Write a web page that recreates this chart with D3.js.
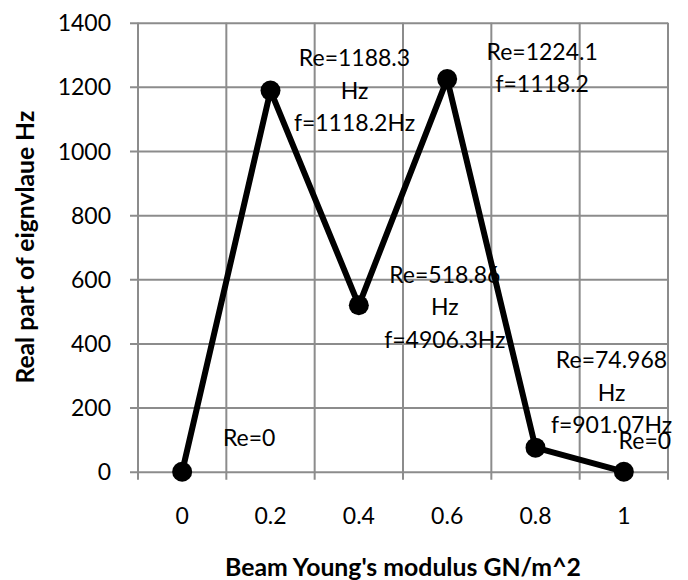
<!DOCTYPE html>
<html>
<head>
<meta charset="utf-8">
<script src="https://cdn.jsdelivr.net/npm/d3@7"></script>
<style>
  html, body { margin: 0; padding: 0; background: #fff; }
  svg { display: block; }
  text { font-family: Lato, "Open Sans", sans-serif; fill: #000; }
</style>
</head>
<body>
<svg id="chart" width="688" height="580"></svg>
<script>
// Young's modulus steps (GN/m^2) along the category axis
const categories = ["0", "0.2", "0.4", "0.6", "0.8", "1"];
// Real part of the eigenvalue (Hz) at each step
const realPart = [0, 1188.3, 518.86, 1224.1, 74.968, 0];
// Data label text, one entry per point, split into lines
const labelLines = [
  ["Re=0"],
  ["Re=1188.3", "Hz", "f=1118.2Hz"],
  ["Re=518.86", "Hz", "f=4906.3Hz"],
  ["Re=1224.1", "f=1118.2"],
  ["Re=74.968", "Hz", "f=901.07Hz"],
  ["Re=0"]
];
const yTicks = [0, 200, 400, 600, 800, 1000, 1200, 1400];

// Label block centre offsets from each marker (layout only)
const labelOffsets = [[67, -34], [84, 0], [86, 2], [95, -11], [76, -55], [21, -31]];

const svg = d3.select("#chart");
const plot = { left: 138, right: 668, top: 22.7, bottom: 471.7 };
const gridColor = "#8c8c8c";
const fontSize = 23;
const lineGap = 32.5;

const x = d3.scaleBand().domain(categories).range([plot.left, plot.right]).padding(0);
const y = d3.scaleLinear().domain([0, 1400]).range([plot.bottom, plot.top]);

// Horizontal gridlines plus y ticks
const yAxis = d3.axisLeft(y)
  .tickValues(yTicks)
  .tickSize(-(plot.right - plot.left))
  .tickSizeOuter(0)
  .tickPadding(0)
  .tickFormat(d3.format("d"));
const gy = svg.append("g").attr("transform", `translate(${plot.left},0)`).call(yAxis);
gy.select(".domain").remove();
gy.selectAll(".tick line")
  .attr("x1", -8)
  .attr("stroke", gridColor)
  .attr("stroke-width", 2);
gy.selectAll(".tick text")
  .attr("x", -27)
  .attr("dy", "0.35em")
  .style("font-size", fontSize + "px")
  .style("font-family", "Lato, 'Open Sans', sans-serif")
  .attr("fill", "#000");

// Vertical gridlines on category boundaries, with small ticks below the axis
const bounds = categories.map(c => x(c)).concat([plot.right]);
svg.append("g").selectAll("line")
  .data(bounds)
  .join("line")
  .attr("x1", d => d).attr("x2", d => d)
  .attr("y1", plot.top).attr("y2", plot.bottom + 8)
  .attr("stroke", gridColor)
  .attr("stroke-width", 2);

// Category labels
const xAxis = d3.axisBottom(x).tickSize(0).tickPadding(0);
const gx = svg.append("g").attr("transform", `translate(0,${plot.bottom})`).call(xAxis);
gx.select(".domain").remove();
gx.selectAll(".tick text")
  .attr("y", 44)
  .attr("dy", "0.35em")
  .style("font-size", fontSize + "px")
  .style("font-family", "Lato, 'Open Sans', sans-serif")
  .attr("fill", "#000");

// Series line and markers
const pts = categories.map((c, i) => ({ c, v: realPart[i], i }));
const cx = d => x(d.c) + x.bandwidth() / 2;
svg.append("path")
  .datum(pts)
  .attr("fill", "none")
  .attr("stroke", "#000")
  .attr("stroke-width", 6)
  .attr("stroke-linejoin", "round")
  .attr("d", d3.line().x(cx).y(d => y(d.v)));
svg.append("g").selectAll("circle")
  .data(pts)
  .join("circle")
  .attr("cx", cx)
  .attr("cy", d => y(d.v))
  .attr("r", 10)
  .attr("fill", "#000");

// Data labels
const lg = svg.append("g");
pts.forEach(d => {
  const lines = labelLines[d.i];
  const [dx, dy] = labelOffsets[d.i];
  const x0 = cx(d) + dx;
  const y0 = y(d.v) + dy - (lines.length - 1) * lineGap / 2;
  const t = lg.append("text")
    .attr("text-anchor", "middle")
    .style("font-size", fontSize + "px");
  lines.forEach((s, k) => {
    t.append("tspan")
      .attr("x", x0)
      .attr("y", y0 + k * lineGap)
      .attr("dy", "0.35em")
      .text(s);
  });
});

// Axis titles, sized to span their measured widths
function fitText(sel, target, base) {
  sel.style("font-size", base + "px");
  const w = sel.node().getComputedTextLength();
  sel.style("font-size", (base * target / w) + "px");
}
const xt = svg.append("text")
  .attr("x", (plot.left + plot.right) / 2)
  .attr("y", 567)
  .attr("dy", "0.35em")
  .attr("text-anchor", "middle")
  .style("font-weight", "bold")
  .text("Beam Young's modulus GN/m^2");
fitText(xt, 356, 23);

const yt = svg.append("text")
  .attr("transform", `translate(25,${(plot.top + plot.bottom) / 2}) rotate(-90)`)
  .attr("dy", "0.35em")
  .attr("text-anchor", "middle")
  .style("font-weight", "bold")
  .text("Real part of eignvlaue Hz");
fitText(yt, 273, 23);
</script>
</body>
</html>
